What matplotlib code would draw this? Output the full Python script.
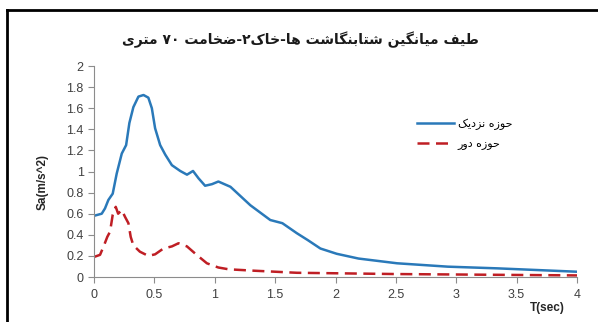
import matplotlib
matplotlib.use("Agg")
import matplotlib.pyplot as plt
from matplotlib.lines import Line2D

# ---------------- data ----------------
t_near = [0.0, 0.064, 0.091, 0.119, 0.155, 0.188, 0.23, 0.266, 0.293, 0.326, 0.368,
          0.41, 0.45, 0.479, 0.506, 0.548, 0.59, 0.645, 0.714, 0.77, 0.82, 0.866,
          0.92, 0.977, 1.03, 1.13, 1.295, 1.46, 1.56, 1.68, 1.77, 1.875, 2.01,
          2.19, 2.51, 2.93, 3.34, 4.0]
sa_near = [0.58, 0.60, 0.65, 0.73, 0.79, 0.98, 1.17, 1.25, 1.46, 1.61, 1.71,
           1.725, 1.70, 1.60, 1.41, 1.25, 1.16, 1.06, 1.005, 0.97, 1.005, 0.935,
           0.865, 0.88, 0.905, 0.855, 0.68, 0.54, 0.51, 0.415, 0.35, 0.27, 0.22,
           0.175, 0.13, 0.098, 0.082, 0.05]

t_far = [0.0, 0.05, 0.083, 0.11, 0.133, 0.155, 0.18, 0.20, 0.23, 0.257, 0.285,
         0.304, 0.326, 0.38, 0.45, 0.506, 0.575, 0.645, 0.70, 0.77, 0.85, 0.935,
         1.03, 1.115, 1.32, 1.68, 2.5, 4.0]
sa_far = [0.19, 0.21, 0.30, 0.38, 0.43, 0.59, 0.665, 0.60, 0.635, 0.57, 0.51,
          0.38, 0.30, 0.24, 0.20, 0.215, 0.27, 0.29, 0.32, 0.29, 0.21, 0.13,
          0.09, 0.073, 0.06, 0.04, 0.028, 0.015]

x_ticks = [0, 0.5, 1, 1.5, 2, 2.5, 3, 3.5, 4]
x_tick_labels = ["0", "0.5", "1", "1.5", "2", "2.5", "3", "3.5", "4"]
y_ticks = [0, 0.2, 0.4, 0.6, 0.8, 1.0, 1.2, 1.4, 1.6, 1.8, 2.0]
y_tick_labels = ["0", "0.2", "0.4", "0.6", "0.8", "1", "1.2", "1.4", "1.6", "1.8", "2"]

title_text = "طیف میانگین شتابنگاشت ها-خاک۲-ضخامت ۷۰ متری"
legend_labels = ["حوزه نزدیک", "حوزه دور"]
x_label = "T(sec)"
y_label = "Sa(m/s^2)"

# ---------------- minimal Arabic/Persian shaping + RTL ordering ----------------
FORMS = {
    # char: (isolated, final, initial, medial) ; None initial => right-joining only
    "\u0627": ("\uFE8D", "\uFE8E", None, None),
    "\u0628": ("\uFE8F", "\uFE90", "\uFE91", "\uFE92"),
    "\u062A": ("\uFE95", "\uFE96", "\uFE97", "\uFE98"),
    "\u062D": ("\uFEA1", "\uFEA2", "\uFEA3", "\uFEA4"),
    "\u062E": ("\uFEA5", "\uFEA6", "\uFEA7", "\uFEA8"),
    "\u062F": ("\uFEA9", "\uFEAA", None, None),
    "\u0631": ("\uFEAD", "\uFEAE", None, None),
    "\u0632": ("\uFEAF", "\uFEB0", None, None),
    "\u0634": ("\uFEB5", "\uFEB6", "\uFEB7", "\uFEB8"),
    "\u0636": ("\uFEBD", "\uFEBE", "\uFEBF", "\uFEC0"),
    "\u0637": ("\uFEC1", "\uFEC2", "\uFEC3", "\uFEC4"),
    "\u0641": ("\uFED1", "\uFED2", "\uFED3", "\uFED4"),
    "\u0645": ("\uFEE1", "\uFEE2", "\uFEE3", "\uFEE4"),
    "\u0646": ("\uFEE5", "\uFEE6", "\uFEE7", "\uFEE8"),
    "\u0647": ("\uFEE9", "\uFEEA", "\uFEEB", "\uFEEC"),
    "\u0648": ("\uFEED", "\uFEEE", None, None),
    "\u06CC": ("\uFBFC", "\uFBFD", "\uFBFE", "\uFBFF"),
    "\u06AF": ("\uFB92", "\uFB93", "\uFB94", "\uFB95"),
    "\u06A9": ("\uFB8E", "\uFB8F", "\uFB90", "\uFB91"),
}
DIGITS = set("0123456789\u06F0\u06F1\u06F2\u06F3\u06F4\u06F5\u06F6\u06F7\u06F8\u06F9")


def shape_run(s):
    out = []
    n = len(s)
    for i, c in enumerate(s):
        if c not in FORMS:
            out.append(c)
            continue
        iso, fin, ini, med = FORMS[c]
        prev = s[i - 1] if i > 0 else None
        nxt = s[i + 1] if i + 1 < n else None
        jp = prev in FORMS and FORMS[prev][2] is not None
        jn = nxt in FORMS and ini is not None
        if jp and jn:
            out.append(med)
        elif jp:
            out.append(fin)
        elif jn:
            out.append(ini)
        else:
            out.append(iso)
    return out


def visual(text):
    # right-to-left line: shaped letters reversed, digit runs kept in order
    shaped = shape_run(text)
    tokens = []
    for ch in shaped:
        if ch in DIGITS and tokens and tokens[-1][-1] in DIGITS:
            tokens[-1] += ch
        else:
            tokens.append(ch)
    return "".join(reversed(tokens))


# ---------------- plot ----------------
fams = ["Liberation Sans", "DejaVu Sans"]
plt.rcParams["font.family"] = fams

fig = plt.figure(figsize=(5.98, 3.22), dpi=100)
fig.patch.set_facecolor("white")
ax = fig.add_axes([94 / 598, 1 - 277 / 322, (577 - 94) / 598, (277 - 66) / 322])

blue = "#2a79b9"
red = "#bf1e24"
dash = (0, (4.8, 2.6))
ax.plot(t_near, sa_near, color=blue, lw=1.8, solid_joinstyle="round")
ax.plot(t_far, sa_far, color=red, lw=1.8, linestyle=dash)

ax.set_xlim(0, 4)
ax.set_ylim(0, 2)
ax.set_xticks(x_ticks)
ax.set_xticklabels(x_tick_labels)
ax.set_yticks(y_ticks)
ax.set_yticklabels(y_tick_labels)
for s in ["top", "right"]:
    ax.spines[s].set_visible(False)
for s in ["left", "bottom"]:
    ax.spines[s].set_color("#8c8c8c")
    ax.spines[s].set_linewidth(0.8)
ax.tick_params(axis="both", colors="#8c8c8c", labelcolor="#404040", labelsize=9,
               length=4, width=0.8, direction="out")
ax.tick_params(axis="x", pad=5)

fig.text(43 / 598, 1 - 182 / 322, y_label, rotation=90, fontsize=8.5,
         fontweight="bold", color="#262626", ha="center", va="center")
fig.text(547 / 598, 1 - 308 / 322, x_label, fontsize=8.5, fontweight="bold",
         color="#262626", ha="center", va="center")
fig.text(300 / 598, 1 - 40 / 322, visual(title_text), fontsize=10,
         fontweight="bold", color="#1a1a1a", ha="center", va="center",
         family=["DejaVu Sans"])

handles = [Line2D([], [], color=blue, lw=1.8),
           Line2D([], [], color=red, lw=1.8, linestyle=dash)]
leg = ax.legend(handles, [visual(l) for l in legend_labels],
                loc="upper left", bbox_to_anchor=(0.648, 0.80),
                frameon=False, handlelength=3.3, handletextpad=0.35,
                labelspacing=0.8, prop={"family": ["DejaVu Sans"], "size": 8})

# screenshot frame lines (top and left)
fig.add_artist(Line2D([7 / 598, 1.0], [1 - 10 / 322, 1 - 10 / 322],
                      transform=fig.transFigure, color="black", lw=2.0))
fig.add_artist(Line2D([7 / 598, 7 / 598], [0, 1 - 10 / 322],
                      transform=fig.transFigure, color="black", lw=2.0))

fig.savefig("out.png", dpi=100, facecolor="white")
